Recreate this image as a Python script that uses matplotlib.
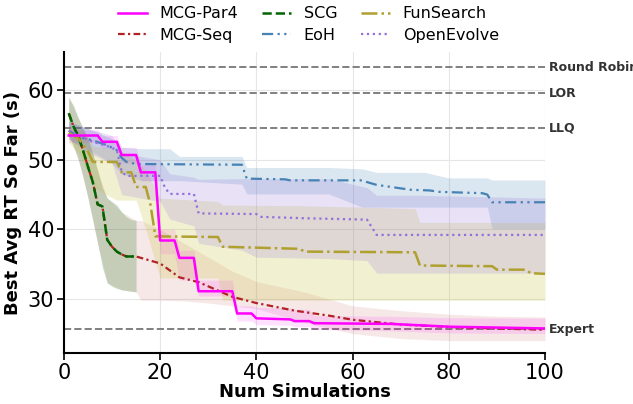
import matplotlib
matplotlib.use('Agg')
import matplotlib.pyplot as plt
import numpy as np

# best-so-far curves (x, value)
par4_x = [1, 7, 8, 11, 12, 15, 16, 19, 20, 23, 24, 27, 28, 35, 36, 39, 40, 47, 48, 51, 52, 68, 80, 100]
par4_y = [53.5, 53.5, 52.6, 52.6, 50.7, 50.7, 48.2, 48.2, 38.4, 38.4, 35.9, 35.9, 31.1, 31.1, 27.9, 27.9,
          27.2, 27.05, 26.8, 26.8, 26.5, 26.4, 26.0, 25.75]
par4_lo = [52.5, 52.5, 51.6, 51.6, 49.5, 49.5, 47.0, 47.0, 36.5, 36.5, 32.7, 32.7, 30.4, 30.4, 26.8, 26.8,
           26.3, 26.2, 26.0, 26.0, 25.6, 25.4, 25.1, 25.0]
par4_hi = [54.3, 54.3, 53.5, 53.5, 51.8, 51.8, 49.3, 49.3, 40.0, 40.0, 37.0, 37.0, 32.7, 32.7, 29.0, 29.0,
           28.8, 28.7, 28.5, 28.5, 27.6, 27.5, 27.3, 27.2]

seq_x = [1, 2, 3, 4, 5, 6, 7, 8, 9, 10, 11, 12, 13, 15, 20, 24, 28, 35, 40, 48, 55, 60, 70, 82, 100]
seq_y = [56.7, 54.8, 53.4, 51.3, 49.0, 46.8, 43.6, 43.3, 38.5, 37.5, 36.8, 36.4, 36.1, 36.1, 35.1, 33.1,
         32.4, 30.3, 29.4, 28.3, 27.6, 27.0, 26.3, 25.9, 25.55]
seq_band_x = [1, 3, 5, 7, 9, 12, 15, 16, 20, 25, 30, 35, 40, 50, 60, 70, 80, 90, 100]
seq_lo = [53.5, 50.0, 44.5, 38.0, 32.3, 31.3, 31.0, 29.8, 29.8, 29.7, 29.4, 29.0, 28.6, 26.6, 25.0, 24.3,
          24.0, 24.0, 24.0]
seq_hi = [59.0, 56.0, 53.0, 48.5, 44.5, 42.5, 41.3, 41.3, 40.0, 38.0, 36.0, 34.0, 32.5, 31.0, 29.0, 28.3,
          27.8, 27.5, 27.4]

scg_x = [1, 2, 3, 4, 5, 6, 7, 8, 9, 10, 11, 12, 13, 14, 15]
scg_y = [56.7, 54.8, 53.4, 51.3, 49.0, 46.8, 43.6, 43.3, 38.5, 37.5, 36.8, 36.4, 36.1, 36.1, 36.1]
scg_lo = [53.5, 52.0, 50.0, 47.5, 44.5, 41.3, 38.0, 34.5, 32.3, 31.8, 31.5, 31.3, 31.2, 31.1, 31.0]
scg_hi = [59.0, 57.8, 56.0, 54.5, 53.0, 51.0, 48.5, 46.0, 44.5, 44.0, 43.5, 42.5, 41.8, 41.4, 41.3]

eoh_x = [1, 3, 6, 9, 11, 12, 13, 15, 37, 38, 46, 47, 62, 63, 65, 72, 76, 78, 87, 88, 89, 100]
eoh_y = [54.2, 53.3, 52.8, 52.1, 51.4, 50.3, 49.7, 49.4, 49.3, 47.3, 47.2, 47.05, 47.05, 46.8, 46.4, 45.7,
         45.6, 45.4, 45.2, 45.0, 43.9, 43.9]
eoh_band_x = [1, 5, 10, 12, 16, 22, 24, 37, 38, 55, 62, 65, 75, 80, 88, 89, 100]
eoh_lo = [53.0, 51.5, 49.5, 48.0, 47.0, 47.0, 47.0, 46.5, 45.1, 45.1, 43.2, 43.2, 43.2, 43.2, 43.2, 40.1, 40.1]
eoh_hi = [55.5, 54.5, 53.0, 51.8, 51.6, 51.6, 50.5, 50.5, 48.9, 48.9, 48.7, 48.2, 48.2, 47.4, 47.4, 47.1, 47.1]

fun_x = [1, 3, 5, 6, 11, 12, 14, 15, 17, 18, 19, 32, 33, 49, 50, 73, 74, 89, 90, 96, 97, 100]
fun_y = [53.9, 53.1, 51.2, 49.7, 49.7, 48.2, 48.2, 46.1, 46.1, 43.5, 39.0, 38.9, 37.5, 37.2, 36.8, 36.7,
         34.8, 34.7, 34.2, 34.2, 33.7, 33.6]
fun_band_x = [1, 3, 5, 6, 11, 15, 17, 20, 32, 33, 50, 73, 74, 100]
fun_lo = [52.5, 51.0, 48.0, 46.0, 44.2, 44.2, 40.0, 33.0, 33.0, 29.8, 29.8, 29.8, 29.8, 29.8]
fun_hi = [55.0, 54.5, 53.5, 52.0, 51.5, 50.0, 48.5, 44.5, 44.0, 43.5, 43.4, 43.0, 41.0, 41.0]

oe_x = [1, 3, 6, 9, 11, 12, 13, 20, 21, 22, 27, 28, 40, 41, 50, 63, 64, 65, 100]
oe_y = [54.2, 53.5, 52.6, 52.0, 51.4, 48.3, 47.7, 47.7, 46.0, 45.1, 45.1, 42.3, 42.2, 41.8, 41.6, 41.4, 40.3,
        39.2, 39.2]
oe_band_x = [1, 5, 10, 12, 20, 22, 27, 28, 37, 40, 55, 63, 65, 74, 100]
oe_lo = [53.0, 51.0, 49.5, 45.0, 44.0, 41.5, 40.5, 38.0, 37.0, 36.0, 35.8, 35.5, 33.7, 33.7, 33.7]
oe_hi = [55.5, 54.5, 53.5, 51.0, 50.0, 48.0, 47.5, 47.2, 47.3, 47.3, 47.3, 46.0, 44.9, 44.9, 44.5]

baseline_names = ['Round Robin', 'LOR', 'LLQ', 'Expert']
baseline_vals = [63.3, 59.6, 54.6, 25.6]

fig = plt.figure(figsize=(6.33, 4.04), dpi=100)
ax = fig.add_axes([0.101, 0.126, 0.76, 0.745])

ax.grid(True, color='#e6e6e6', linewidth=0.8, zorder=0)
ax.set_axisbelow(True)

for v in baseline_vals:
    ax.axhline(v, color='gray', linestyle='--', linewidth=1.4, zorder=1)
for name, v in zip(baseline_names, baseline_vals):
    ax.text(100.9, v, name, fontsize=9, fontweight='bold', color='#333333', va='center', clip_on=False)

# bands
ax.fill_between(seq_band_x, seq_lo, seq_hi, color='firebrick', alpha=0.1, linewidth=0)
ax.fill_between(par4_x, par4_lo, par4_hi, color='magenta', alpha=0.12, linewidth=0)
ax.fill_between(scg_x, scg_lo, scg_hi, color='darkgreen', alpha=0.2, linewidth=0)
ax.fill_between(eoh_band_x, eoh_lo, eoh_hi, color='steelblue', alpha=0.2, linewidth=0)
ax.fill_between(fun_band_x, fun_lo, fun_hi, color='#bcbd22', alpha=0.2, linewidth=0)
ax.fill_between(oe_band_x, oe_lo, oe_hi, color='mediumpurple', alpha=0.2, linewidth=0)

ax.plot(par4_x, par4_y, color='magenta', linestyle='-', linewidth=1.8, label='MCG-Par4', zorder=5)
ax.plot(seq_x, seq_y, color='firebrick', linestyle=(0, (3, 1.5, 1, 1.5)), linewidth=1.6, label='MCG-Seq', zorder=4)
ax.plot(scg_x, scg_y, color='darkgreen', linestyle='--', linewidth=1.8, label='SCG', zorder=4)
ax.plot(eoh_x, eoh_y, color='steelblue', linestyle=(0, (5, 2, 1, 2, 1, 2)), linewidth=1.6, label='EoH', zorder=4)
ax.plot(fun_x, fun_y, color='#b0a030', linestyle='-.', linewidth=1.8, label='FunSearch', zorder=4)
ax.plot(oe_x, oe_y, color='mediumpurple', linestyle=':', linewidth=1.6, label='OpenEvolve', zorder=4)

ax.set_xlim(0, 100)
ax.set_ylim(22.2, 65.5)
ax.set_xticks([0, 20, 40, 60, 80, 100])
ax.set_yticks([30, 40, 50, 60])
ax.tick_params(labelsize=15, width=1.2, length=5, pad=2)
ax.spines['top'].set_visible(False)
ax.spines['right'].set_visible(False)
ax.spines['left'].set_linewidth(1.5)
ax.spines['bottom'].set_linewidth(1.5)
ax.set_xlabel('Num Simulations', fontsize=13, fontweight='bold', labelpad=0)
ax.set_ylabel('Best Avg RT So Far (s)', fontsize=13, fontweight='bold')

fig.legend(loc='upper center', bbox_to_anchor=(0.487, 1.02), ncol=3, frameon=False, fontsize=11.5,
           handlelength=1.8, columnspacing=1.5, labelspacing=0.4)

fig.savefig('out.png', dpi=100)
